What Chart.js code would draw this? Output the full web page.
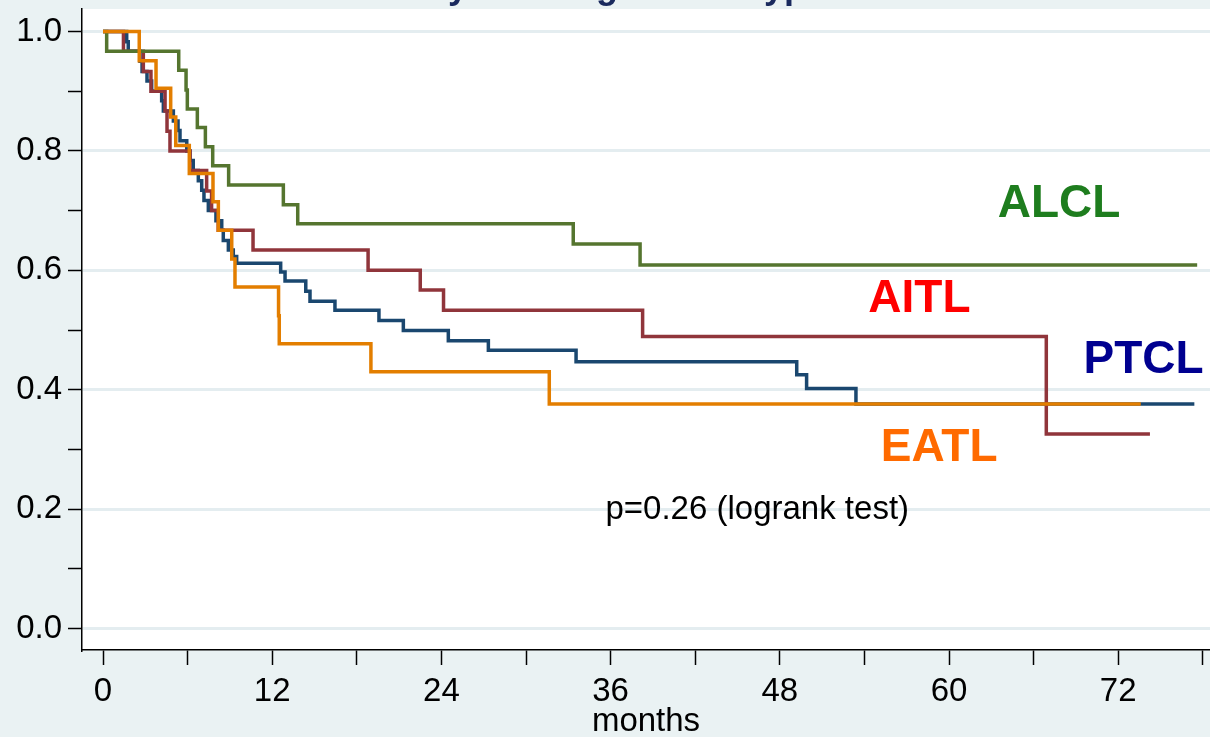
<!DOCTYPE html>
<html>
<head>
<meta charset="utf-8">
<title>Kaplan-Meier by subtype</title>
<script src="https://cdn.jsdelivr.net/npm/chart.js@4.4.0/dist/chart.umd.min.js"></script>
<style>
    html, body { margin: 0; padding: 0; background: #eaf2f3; }
    #wrap { width: 1210px; height: 737px; }
</style>
</head>
<body>
<div id="wrap"><canvas id="kmChart" width="1210" height="737"></canvas></div>
<script>
// Axis ticks
const xTickValues = [0, 6, 12, 18, 24, 30, 36, 42, 48, 54, 60, 66, 72, 78];
const yTickValues = [0, 0.1, 0.2, 0.3, 0.4, 0.5, 0.6, 0.7, 0.8, 0.9, 1.0];

// Survival curves (months, survival probability)
const ptclTime = [0, 1.68, 1.79, 2.62, 2.77, 3.12, 3.45, 4.16, 4.28, 4.99, 5.32, 5.46, 5.94, 6.17, 6.40, 6.76, 7.00, 7.16, 7.47, 8.01, 8.42, 8.53, 8.89, 9.24, 9.48, 12.60, 12.91, 14.38, 14.68, 16.45, 19.57, 21.30, 24.49, 27.33, 33.55, 49.2, 49.9, 53.4, 77.4];
const ptclSurv = [1.0, 0.983, 0.967, 0.950, 0.933, 0.917, 0.900, 0.884, 0.867, 0.850, 0.834, 0.817, 0.800, 0.784, 0.767, 0.750, 0.734, 0.717, 0.700, 0.683, 0.667, 0.650, 0.634, 0.623, 0.612, 0.597, 0.582, 0.565, 0.548, 0.533, 0.516, 0.499, 0.482, 0.466, 0.447, 0.425, 0.402, 0.376, 0.376];

const aitlTime = [0, 1.45, 2.86, 3.40, 4.40, 4.54, 4.75, 6.17, 7.35, 7.70, 8.17, 10.64, 18.8, 22.5, 24.15, 38.27, 66.9, 74.25];
const aitlSurv = [1.0, 0.967, 0.933, 0.900, 0.867, 0.833, 0.800, 0.767, 0.733, 0.700, 0.667, 0.634, 0.600, 0.567, 0.533, 0.489, 0.326, 0.326];

const alclTime = [0, 0.26, 5.37, 5.89, 5.98, 6.69, 7.26, 7.78, 8.91, 12.79, 13.81, 33.35, 38.09, 77.6];
const alclSurv = [1.0, 0.967, 0.935, 0.902, 0.870, 0.839, 0.807, 0.775, 0.743, 0.710, 0.678, 0.644, 0.609, 0.609];

const eatlTime = [0, 2.57, 3.76, 4.80, 5.16, 6.12, 7.80, 8.18, 9.13, 9.36, 12.45, 12.50, 19.0, 31.65, 73.6];
const eatlSurv = [1.0, 0.951, 0.905, 0.857, 0.809, 0.762, 0.715, 0.667, 0.619, 0.572, 0.524, 0.477, 0.430, 0.376, 0.376];

// Stata s2color-ish palette
const COLORS = {
    navy: '#1a476f',
    maroon: '#90353b',
    forest: '#55752f',
    dkorange: '#e37e00',
    bg: '#eaf2f3',
    grid: '#e4edf0'
};

// Curve labels placed in data coordinates
const curveLabels = [
    { text: 'ALCL', x: 67.8, y: 0.710, color: '#1e7d1e' },
    { text: 'AITL', x: 57.9, y: 0.552, color: '#ff0000' },
    { text: 'PTCL', x: 73.8, y: 0.450, color: '#000090' },
    { text: 'EATL', x: 59.3, y: 0.302, color: '#ff6a00' }
];
const pValueNote = { text: 'p=0.26 (logrank test)', x: 46.4, y: 0.1985 };

const FONT = "'Liberation Sans', Arial, Helvetica, sans-serif";

function toPoints(times, surv) {
    return times.map((t, i) => ({ x: t, y: surv[i] }));
}

function kmDataset(label, times, surv, color) {
    return {
        label: label,
        data: toPoints(times, surv),
        borderColor: color,
        borderWidth: 3.5,
        pointRadius: 0,
        stepped: 'before',
        tension: 0,
        fill: false
    };
}

const isMajorY = v => Math.round(v * 10) % 2 === 0;

// Background: bluish-gray outside, white plot region
const backgroundPlugin = {
    id: 'kmBackground',
    beforeDraw(chart) {
        const { ctx, chartArea: a } = chart;
        ctx.save();
        ctx.fillStyle = COLORS.bg;
        ctx.fillRect(0, 0, chart.width, chart.height);
        ctx.fillStyle = '#ffffff';
        ctx.fillRect(a.left, a.top, a.right - a.left, a.bottom - a.top);
        ctx.restore();
    }
};

// Curve names, p-value and the (cut off) title
const textPlugin = {
    id: 'kmText',
    afterDatasetsDraw(chart) {
        const { ctx, scales } = chart;
        ctx.save();
        ctx.textAlign = 'center';
        ctx.textBaseline = 'middle';
        ctx.font = 'bold 46px ' + FONT;
        curveLabels.forEach(l => {
            ctx.fillStyle = l.color;
            ctx.fillText(l.text, scales.x.getPixelForValue(l.x), scales.y.getPixelForValue(l.y));
        });
        ctx.font = '33px ' + FONT;
        ctx.fillStyle = '#000';
        ctx.fillText(pValueNote.text, scales.x.getPixelForValue(pValueNote.x), scales.y.getPixelForValue(pValueNote.y));

        // title sits mostly above the canvas, only descenders show
        ctx.font = 'bold 36px ' + FONT;
        ctx.fillStyle = '#1a2a5e';
        ctx.textAlign = 'left';
        ctx.textBaseline = 'alphabetic';
        const head = 'Survival by histolo';
        const gx = 607 - ctx.measureText(head).width - ctx.measureText('g').width / 2;
        ctx.fillText('Survival by histological subtype', gx, -2);
        ctx.restore();
    }
};

const ctx = document.getElementById('kmChart').getContext('2d');
const chart = new Chart(ctx, {
    type: 'line',
    data: {
        datasets: [
            kmDataset('EATL', eatlTime, eatlSurv, COLORS.dkorange),
            kmDataset('ALCL', alclTime, alclSurv, COLORS.forest),
            kmDataset('AITL', aitlTime, aitlSurv, COLORS.maroon),
            kmDataset('PTCL', ptclTime, ptclSurv, COLORS.navy)
        ]
    },
    options: {
        responsive: false,
        animation: false,
        layout: { padding: { top: 9, right: 0, bottom: 0, left: 0 } },
        plugins: {
            legend: { display: false },
            tooltip: { enabled: false },
            title: { display: false }
        },
        scales: {
            x: {
                type: 'linear',
                min: -1.49,
                max: 78.51,
                afterFit: s => { s.height = 87; s.paddingLeft = 0; s.paddingRight = 0; },
                afterBuildTicks: s => { s.ticks = xTickValues.map(v => ({ value: v })); },
                ticks: {
                    autoSkip: false,
                    maxRotation: 0,
                    padding: 7,
                    color: '#000',
                    font: { family: FONT, size: 33 },
                    callback: v => (v % 12 === 0 ? String(v) : '')
                },
                grid: {
                    drawOnChartArea: false,
                    tickLength: 15,
                    tickColor: '#000',
                    tickWidth: 1.5
                },
                border: { color: '#000', width: 1.5 },
                title: {
                    display: true,
                    text: 'months',
                    color: '#000',
                    font: { family: FONT, size: 33 },
                    padding: { top: 0, bottom: -5 }
                }
            },
            y: {
                min: -0.036,
                max: 1.0377,
                afterFit: s => { s.width = 82; s.paddingTop = 0; s.paddingBottom = 0; },
                afterBuildTicks: s => { s.ticks = yTickValues.map(v => ({ value: v })); },
                ticks: {
                    padding: 6,
                    color: '#000',
                    font: { family: FONT, size: 33 },
                    callback: v => (isMajorY(v) ? v.toFixed(1) : '')
                },
                grid: {
                    color: c => (c.tick && isMajorY(c.tick.value) ? COLORS.grid : 'rgba(0,0,0,0)'),
                    lineWidth: 3,
                    tickLength: 14,
                    tickColor: '#000',
                    tickWidth: 1.5
                },
                border: { color: '#000', width: 1.5 }
            }
        }
    },
    plugins: [backgroundPlugin, textPlugin]
});
</script>
</body>
</html>
